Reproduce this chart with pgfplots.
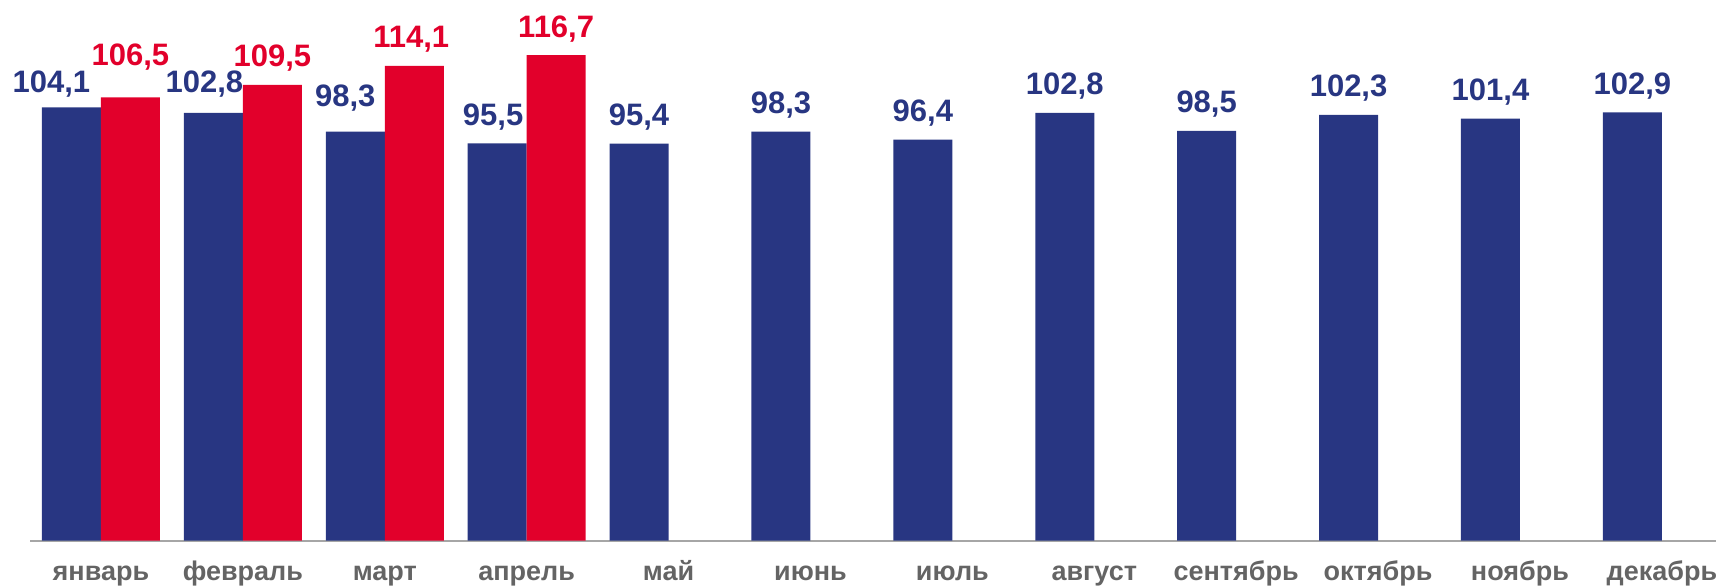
\documentclass[border=0pt]{standalone}
\usepackage{fontspec}
\setmainfont{Liberation Sans}
\usepackage{pgfplots}
\usepackage{pgfplotstable}
\pgfplotsset{compat=1.18}

\definecolor{barblue}{RGB}{40,54,130}
\definecolor{barred}{RGB}{226,0,43}
\definecolor{labgray}{RGB}{100,100,100}
\definecolor{axgray}{RGB}{166,166,166}

% x = month index, y = value, dx/dy = label nudge (pt)
\pgfplotstableread{
x  y     dx    dy
0  104.1 -10   -1.7
1  102.8 -4.5  1
2  98.3  -5    3.5
3  95.5  -2    0
4  95.4  0     0
5  98.3  0     0
6  96.4  0     0
7  102.8 0     0
8  98.5  0     0
9  102.3 0     0
10 101.4 0     0
11 102.9 0     0
}\bluedata

\pgfplotstableread{
x  y     dx    dy
0  106.5 0     7
1  109.5 0     0
2  114.1 -1.5  0
3  116.7 0     0
}\reddata

\begin{document}
\begin{tikzpicture}
\begin{axis}[
  scale only axis,
  width=851.4pt, height=249.7pt,
  xmin=-0.5, xmax=11.5,
  ymin=0, ymax=120,
  ybar=0pt, bar width=29.5pt,
  axis x line*=bottom,
  axis y line=none,
  x axis line style={draw=axgray, line width=1pt, -},
  xtick={0,...,11},
  xticklabels={январь,февраль,март,апрель,май,июнь,июль,август,сентябрь,октябрь,ноябрь,декабрь},
  major tick length=0pt,
  xticklabel style={font=\fontsize{13.5}{16}\selectfont\bfseries, text=labgray, anchor=base, yshift=-20pt},
  ytick=\empty,
  clip=false,
  nodes near coords={\pgfmathprintnumber[fixed,fixed zerofill,precision=1,use comma,assume math mode=true]{\pgfplotspointmeta}},
  visualization depends on={\thisrow{dx}\as\dx},
  visualization depends on={\thisrow{dy}\as\dy},
  every node near coord/.append style={font=\fontsize{15.5}{18}\selectfont\bfseries, anchor=base, inner sep=0pt, yshift=9pt, xshift={\dx*1pt}, yshift={\dy*1pt}},
]
\addplot[fill=barblue, draw=none, every node near coord/.append style={text=barblue}] table[x=x, y=y] {\bluedata};
\addplot[fill=barred, draw=none, every node near coord/.append style={text=barred}] table[x=x, y=y] {\reddata};
\end{axis}
\pgfresetboundingbox
\path (-15pt,-23.15pt) rectangle (843pt,270.35pt);
\end{tikzpicture}
\end{document}
